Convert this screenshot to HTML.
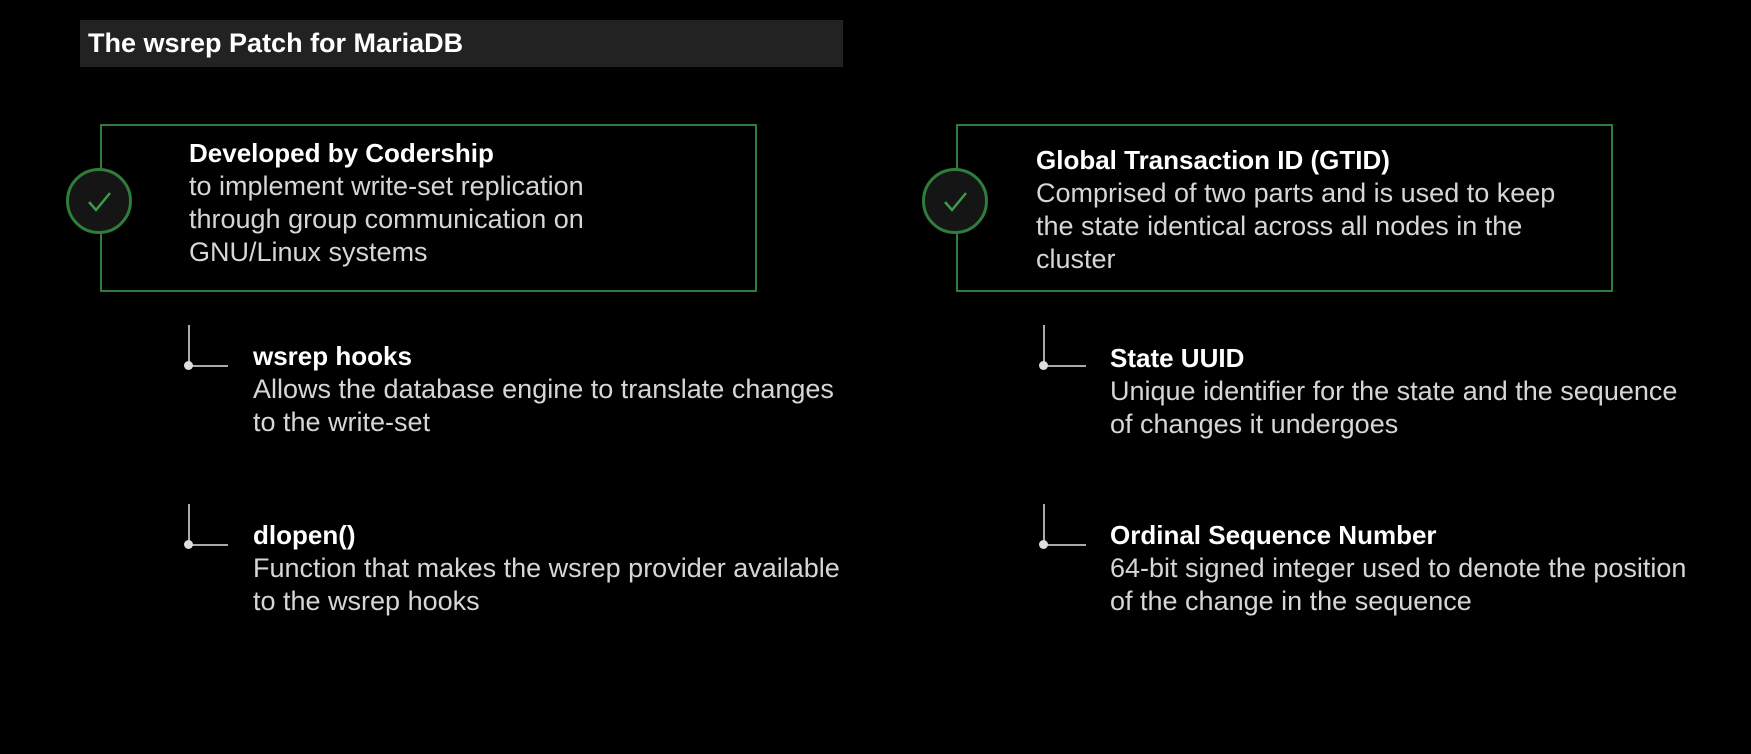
<!DOCTYPE html>
<html><head><meta charset="utf-8"><style>
html,body{margin:0;padding:0;background:#000;}
body{width:1751px;height:754px;position:relative;overflow:hidden;font-family:"Liberation Sans",sans-serif;}
.bar{position:absolute;left:80px;top:20px;width:763px;height:47px;background:#222;}
.bar span{position:absolute;left:8px;top:8px;color:#fff;font-weight:bold;font-size:27px;}
.box{position:absolute;top:124px;height:164px;border:2px solid #2f7d3a;}
.circ{position:absolute;width:66px;height:66px;border-radius:50%;border:3px solid #2f7d3a;background:#151515;box-sizing:border-box;}
.t{position:absolute;color:#d6d6d6;font-size:27px;line-height:33px;white-space:nowrap;}
.t b{color:#fff;font-size:26px;}
.cv{position:absolute;width:2px;background:#aaa;}
.ch{position:absolute;height:2px;background:#aaa;}
.dot{position:absolute;width:9px;height:9px;border-radius:50%;background:#ddd;}
</style></head><body>
<div class="bar"><span>The wsrep Patch for MariaDB</span></div>

<div class="box" style="left:100px;width:653px;"></div>
<div class="circ" style="left:66px;top:168px;"></div>
<svg style="position:absolute;left:66px;top:168px" width="66" height="66"><polyline points="23,34 30,42 44,25" fill="none" stroke="#3c9a4a" stroke-width="2.5"/></svg>
<div class="t" style="left:189px;top:137px;"><b>Developed by Codership</b><br>to implement write-set replication<br>through group communication on<br>GNU/Linux systems</div>

<div class="box" style="left:956px;width:653px;"></div>
<div class="circ" style="left:922px;top:168px;"></div>
<svg style="position:absolute;left:922px;top:168px" width="66" height="66"><polyline points="23,34 30,42 44,25" fill="none" stroke="#3c9a4a" stroke-width="2.5"/></svg>
<div class="t" style="left:1036px;top:144px;"><b>Global Transaction ID (GTID)</b><br>Comprised of two parts and is used to keep<br>the state identical across all nodes in the<br>cluster</div>

<div class="cv" style="left:188px;top:325px;height:41px;"></div>
<div class="ch" style="left:188px;top:365px;width:40px;"></div>
<div class="dot" style="left:184px;top:361px;"></div>
<div class="t" style="left:253px;top:340px;"><b>wsrep hooks</b><br>Allows the database engine to translate changes<br>to the write-set</div>

<div class="cv" style="left:188px;top:504px;height:41px;"></div>
<div class="ch" style="left:188px;top:544px;width:40px;"></div>
<div class="dot" style="left:184px;top:540px;"></div>
<div class="t" style="left:253px;top:519px;"><b>dlopen()</b><br>Function that makes the wsrep provider available<br>to the wsrep hooks</div>

<div class="cv" style="left:1043px;top:325px;height:41px;"></div>
<div class="ch" style="left:1043px;top:365px;width:43px;"></div>
<div class="dot" style="left:1039px;top:361px;"></div>
<div class="t" style="left:1110px;top:342px;"><b>State UUID</b><br>Unique identifier for the state and the sequence<br>of changes it undergoes</div>

<div class="cv" style="left:1043px;top:504px;height:41px;"></div>
<div class="ch" style="left:1043px;top:544px;width:43px;"></div>
<div class="dot" style="left:1039px;top:540px;"></div>
<div class="t" style="left:1110px;top:519px;"><b>Ordinal Sequence Number</b><br>64-bit signed integer used to denote the position<br>of the change in the sequence</div>
</body></html>
